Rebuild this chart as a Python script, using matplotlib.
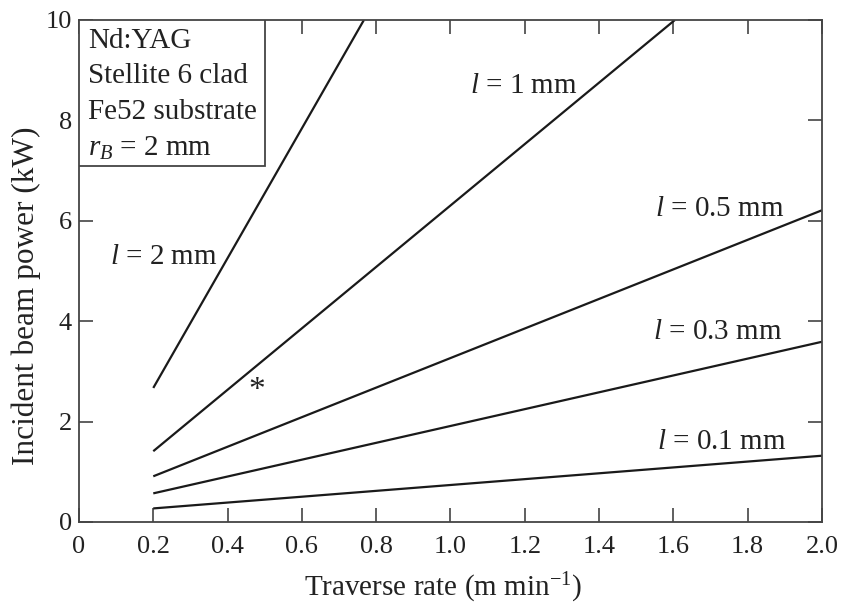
import matplotlib
matplotlib.use("Agg")
import matplotlib.pyplot as plt
from matplotlib.patches import Rectangle

plt.rcParams['font.family'] = ['Liberation Serif', 'DejaVu Serif']
plt.rcParams['mathtext.fontset'] = 'custom'
plt.rcParams['mathtext.rm'] = 'Liberation Serif'
plt.rcParams['mathtext.it'] = 'Liberation Serif:italic'

# Data: traverse rate (m/min) and incident beam power (kW) per clad thickness
labels = ["$l$ = 0.1 mm", "$l$ = 0.3 mm", "$l$ = 0.5 mm", "$l$ = 1 mm", "$l$ = 2 mm"]
x_01 = [0.2, 2.0]
y_01 = [0.27, 1.32]
x_03 = [0.2, 2.0]
y_03 = [0.57, 3.59]
x_05 = [0.2, 2.0]
y_05 = [0.91, 6.21]
x_1 = [0.2, 1.604]
y_1 = [1.41, 10.0]
x_2 = [0.2, 0.767]
y_2 = [2.67, 10.0]

info_lines = ["Nd:YAG", "Stellite 6 clad", "Fe52 substrate", "$r_B$ = 2 mm"]

xticks = [0, 0.2, 0.4, 0.6, 0.8, 1.0, 1.2, 1.4, 1.6, 1.8, 2.0]
xticklabels = ["0", "0.2", "0.4", "0.6", "0.8", "1.0", "1.2", "1.4", "1.6", "1.8", "2.0"]
yticks = [0, 2, 4, 6, 8, 10]

fig = plt.figure(figsize=(8.41, 6.04), dpi=100)
ax = fig.add_axes([0.0939, 0.1358, 0.9774 - 0.0939, 0.9669 - 0.1358])

lc = '#1a1a1a'
for xs, ys in [(x_01, y_01), (x_03, y_03), (x_05, y_05), (x_1, y_1), (x_2, y_2)]:
    ax.plot(xs, ys, color=lc, lw=1.6, solid_capstyle='butt')

ax.set_xlim(0, 2.0)
ax.set_ylim(0, 10)
ax.set_xticks(xticks)
ax.set_xticklabels(xticklabels)
ax.set_yticks(yticks)
ax.tick_params(direction='in', length=10, width=1.2, color='#444444',
               top=True, right=True, labelsize=19, labelcolor='#222222')
ax.tick_params(axis='x', pad=10)
ax.tick_params(axis='y', pad=5)
for s in ax.spines.values():
    s.set_color('#444444')
    s.set_linewidth(1.3)

ax.set_xlabel("Traverse rate (m min$^{-1}$)", fontsize=21, color='#222222')
ax.set_ylabel("Incident beam power (kW)", fontsize=22.5, color='#222222')
ax.xaxis.set_label_coords(0.49, -0.098)
ax.yaxis.set_label_coords(-0.051, 0.45)

tc = '#222222'
fs = 21
ax.text(0.083, 5.28, labels[4], fontsize=fs, color=tc, ha='left', va='center')
ax.text(1.052, 8.68, labels[3], fontsize=fs, color=tc, ha='left', va='center')
ax.text(1.55, 6.24, labels[2], fontsize=fs, color=tc, ha='left', va='center')
ax.text(1.545, 3.78, labels[1], fontsize=fs, color=tc, ha='left', va='center')
ax.text(1.556, 1.6, labels[0], fontsize=fs, color=tc, ha='left', va='center')
ax.text(0.479, 2.62, "*", fontsize=24, color=tc, ha='center', va='center')

ax.add_patch(Rectangle((0, 7.1), 0.5, 2.9, fc='white', ec='#444444', lw=1.3, zorder=3))
for yv, t in zip([9.58, 8.88, 8.16, 7.45], info_lines):
    ax.text(0.024, yv, t, fontsize=fs, color=tc, ha='left', va='center', zorder=4)

fig.savefig("out.png", dpi=100)
